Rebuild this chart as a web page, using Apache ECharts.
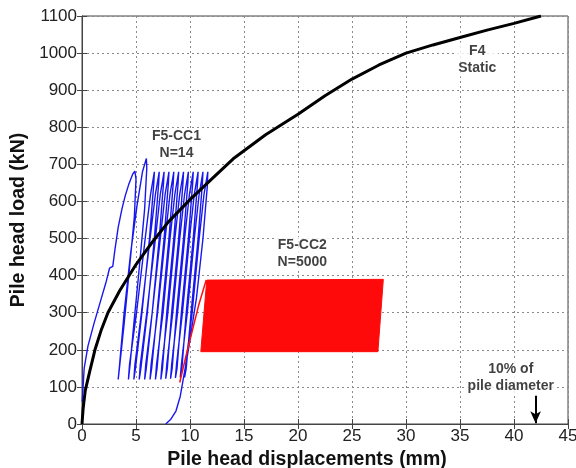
<!DOCTYPE html>
<html>
<head>
<meta charset="utf-8">
<script src="https://cdn.jsdelivr.net/npm/echarts@6/dist/echarts.min.js"></script>
<style>
  html, body { margin: 0; padding: 0; background: #fff; }
  #chart { width: 576px; height: 468px; }
</style>
</head>
<body>
<div id="chart"></div>
<script>
// Axis ticks
const xTickLabels = ['0', '5', '10', '15', '20', '25', '30', '35', '40', '45'];
const yTickLabels = ['0', '100', '200', '300', '400', '500', '600', '700', '800', '900', '1000', '1100'];

// F4 – static load test: [displacement mm, load kN]
const f4Static = [
  [0, 0], [0.1, 40], [0.3, 90], [0.7, 140], [1.2, 200], [1.8, 255], [2.4, 300],
  [3.5, 360], [5, 430], [6.5, 490], [8, 545], [10, 605], [12, 660], [14, 715],
  [17, 780], [20, 835], [22.5, 885], [25, 930], [27.5, 968], [30, 1000], [32.5, 1022],
  [35, 1042], [37.5, 1062], [40, 1080], [42.5, 1100]
];

// F5-CC1 – 14 load cycles (path in drawing order)
const f5cc1 = [
  [0.02, 60], [0.1, 100], [0.2, 150], [0.55, 210], [1.1, 270], [1.7, 330], [2.25, 385],
  [2.55, 420], [2.85, 425], [3.05, 470], [3.35, 530], [3.7, 580], [4.0, 615], [4.35, 648],
  [4.7, 674], [4.9, 682],
  [5.0, 660], [4.85, 560], [4.4, 420], [3.9, 270], [3.5, 160], [3.35, 120],
  [3.45, 150], [3.9, 300], [4.5, 460], [5.1, 590], [5.6, 680], [5.96, 716],
  [6.0, 690], [5.8, 580], [5.3, 420], [4.8, 270], [4.45, 160], [4.3, 120],
  [4.4, 160], [5.05, 300], [5.85, 500], [6.35, 620], [6.7, 680],
  [6.65, 650], [6.25, 500], [5.55, 300], [4.95, 150], [4.8, 120],
  [4.9, 160], [5.5, 300], [6.3, 500], [6.8, 620], [7.15, 680],
  [7.1, 650], [6.7, 500], [6.05, 300], [5.45, 150], [5.3, 120],
  [5.4, 160], [6.0, 300], [6.8, 500], [7.25, 620], [7.6, 680],
  [7.55, 650], [7.15, 500], [6.5, 300], [5.95, 150], [5.8, 120],
  [5.9, 160], [6.5, 300], [7.25, 500], [7.7, 620], [8.05, 680],
  [8.0, 650], [7.6, 500], [6.95, 300], [6.45, 150], [6.3, 120],
  [6.4, 160], [7.0, 300], [7.7, 500], [8.15, 620], [8.5, 680],
  [8.45, 650], [8.05, 500], [7.4, 300], [6.95, 150], [6.8, 120],
  [6.9, 160], [7.5, 300], [8.15, 500], [8.6, 620], [8.95, 680],
  [8.9, 650], [8.5, 500], [7.85, 300], [7.45, 150], [7.3, 120],
  [7.4, 160], [7.95, 300], [8.6, 500], [9.05, 620], [9.4, 680],
  [9.35, 650], [8.95, 500], [8.3, 300], [7.9, 150], [7.75, 122],
  [7.85, 160], [8.4, 300], [9.05, 500], [9.5, 620], [9.85, 680],
  [9.8, 650], [9.4, 500], [8.75, 300], [8.35, 150], [8.2, 122],
  [8.3, 160], [8.85, 300], [9.5, 500], [9.95, 620], [10.3, 680],
  [10.25, 650], [9.85, 500], [9.2, 300], [8.8, 150], [8.65, 124],
  [8.75, 160], [9.3, 300], [9.95, 500], [10.4, 620], [10.75, 680],
  [10.7, 650], [10.3, 500], [9.65, 300], [9.25, 150], [9.1, 125],
  [9.2, 160], [9.75, 300], [10.4, 500], [10.85, 620], [11.2, 680],
  [11.15, 650], [10.75, 500], [10.1, 300], [9.65, 150], [9.5, 126],
  [9.6, 160], [10.2, 300], [10.85, 500], [11.3, 620], [11.65, 680],
  [11.6, 640], [11.2, 500], [10.6, 340], [9.85, 200], [9.4, 125], [9.1, 75],
  [8.7, 35], [8.2, 12], [7.75, 0]
];

// F5-CC2 – first loading, then the band swept by 5000 cycles
const f5cc2Loading = [[9.05, 112], [9.6, 180], [10.2, 250], [10.8, 320], [11.5, 388]];
const f5cc2Band = [[11.0, 195], [11.55, 388], [27.9, 390], [27.4, 195]];

// Annotations
const notes = [
  { value: [8.75, 752], text: 'F5-CC1\nN=14' },
  { value: [20.4, 458], text: 'F5-CC2\nN=5000' },
  { value: [36.6, 983], text: 'F4\nStatic' },
  { value: [39.7, 124], text: '10% of\npile diameter' }
];
const diameterArrow = [[42, 76], [42, 2]];

const FONT = '"Liberation Sans", Arial, sans-serif';
const chart = echarts.init(document.getElementById('chart'), null, { renderer: 'canvas' });

const gridLine = { show: true, lineStyle: { color: '#8a8a8a', type: [2, 3], width: 1 } };
const tickInside = { show: true, inside: true, length: 5, lineStyle: { color: '#444' } };

chart.setOption({
  animation: false,
  backgroundColor: '#fff',
  grid: {
    left: 82, right: 8, top: 16, bottom: 44, containLabel: false, outerBoundsMode: 'none',
    show: true, borderColor: '#444', borderWidth: 1
  },
  xAxis: [{
    type: 'value', min: 0, max: 45, interval: 5,
    name: 'Pile head displacements (mm)', nameLocation: 'middle', nameGap: 23,
    nameTextStyle: { fontFamily: FONT, fontSize: 19.5, fontWeight: 'bold', color: '#111', padding: [0, 36, 0, 0] },
    axisLine: { show: true, lineStyle: { color: '#444' } },
    axisTick: tickInside,
    axisLabel: { fontFamily: FONT, fontSize: 17, color: '#222', margin: 4,
      formatter: v => xTickLabels[Math.round(v / 5)] },
    splitLine: gridLine
  }, {
    type: 'value', min: 0, max: 45, interval: 5, position: 'top',
    axisLine: { show: true, lineStyle: { color: '#444' } },
    axisTick: tickInside, axisLabel: { show: false }, splitLine: { show: false }
  }],
  yAxis: [{
    type: 'value', min: 0, max: 1100, interval: 100,
    name: 'Pile head load (kN)', nameLocation: 'middle', nameGap: 52,
    nameTextStyle: { fontFamily: FONT, fontSize: 19.5, fontWeight: 'bold', color: '#111' },
    axisLine: { show: true, lineStyle: { color: '#444' } },
    axisTick: tickInside,
    axisLabel: { fontFamily: FONT, fontSize: 17, color: '#222', margin: 5,
      formatter: v => yTickLabels[Math.round(v / 100)] },
    splitLine: gridLine
  }, {
    type: 'value', min: 0, max: 1100, interval: 100, position: 'right',
    axisLine: { show: true, lineStyle: { color: '#444' } },
    axisTick: tickInside, axisLabel: { show: false }, splitLine: { show: false }
  }],
  series: [
    {
      name: 'F5-CC1', type: 'line', data: f5cc1, showSymbol: false, z: 2,
      lineStyle: { color: '#1818ee', width: 1.4 }
    },
    {
      name: 'F5-CC2 band', type: 'custom', data: f5cc2Band, z: 3,
      renderItem: (params, api) => {
        if (params.dataIndex !== 0) return null;
        const pts = f5cc2Band.map(p => api.coord(p));
        return { type: 'polygon', shape: { points: pts }, style: { fill: '#ff0a0a', stroke: '#ff0a0a', lineWidth: 1 } };
      }
    },
    {
      name: 'F5-CC2', type: 'line', data: f5cc2Loading, showSymbol: false, z: 3,
      lineStyle: { color: '#ff1010', width: 1.5 }
    },
    {
      name: 'F4', type: 'line', data: f4Static, showSymbol: false, z: 4,
      lineStyle: { color: '#000', width: 3, join: 'round' }
    },
    {
      name: 'notes', type: 'scatter', data: notes, symbolSize: 0, z: 5,
      label: {
        show: true, position: 'inside', formatter: p => p.data.text,
        fontFamily: FONT, fontSize: 14, fontWeight: 'bold', color: '#111',
        lineHeight: 17, align: 'center', backgroundColor: '#fff', padding: [0, 2]
      }
    },
    {
      name: 'arrow', type: 'line', data: [], z: 5,
      markLine: {
        silent: true, symbol: ['none', 'arrow'], symbolSize: [8, 12],
        label: { show: false },
        lineStyle: { color: '#000', width: 2, type: 'solid' },
        data: [[{ coord: diameterArrow[0] }, { coord: diameterArrow[1] }]]
      }
    }
  ]
});
</script>
</body>
</html>
